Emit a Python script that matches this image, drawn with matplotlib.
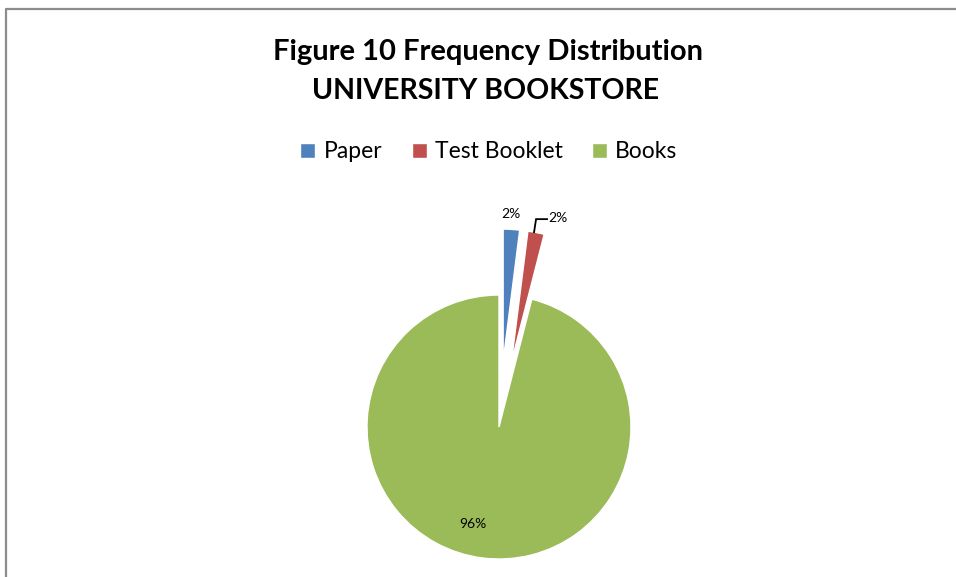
import matplotlib
matplotlib.use("Agg")
import matplotlib.pyplot as plt
import numpy as np
from matplotlib.lines import Line2D

# ---- data ----
categories = ["Paper", "Test Booklet", "Books"]
values = [2, 2, 96]
pct_labels = ["2%", "2%", "96%"]
colors = ["#4F81BD", "#C0504D", "#9BBB59"]
explode_frac = [0.5, 0.5, 0.0]
title_lines = ["Figure 10 Frequency Distribution", "UNIVERSITY BOOKSTORE"]

plt.rcParams['font.family'] = ['Lato', 'DejaVu Sans']

W, H = 956, 577
fig = plt.figure(figsize=(W / 100, H / 100), dpi=100)
ax = fig.add_axes([0, 0, 1, 1])

cx, cy, R = 499, H - 427, 132
wedges, _ = ax.pie(values, colors=colors, explode=[e * R for e in explode_frac],
                   startangle=90, counterclock=False, radius=R, center=(cx, cy),
                   wedgeprops=dict(edgecolor='white', linewidth=1.0), frame=True)
ax.set_xlim(0, W)
ax.set_ylim(0, H)
ax.set_aspect('equal')
ax.axis('off')

# data labels
label_r = [213, 217, 101]
label_nudge = [0.4, -3.0, -8.0]
for i, w in enumerate(wedges):
    mid = np.deg2rad((w.theta1 + w.theta2) / 2 + label_nudge[i])
    if i == 1:
        # leader line
        a = np.deg2rad((w.theta1 + w.theta2) / 2 + 0.9)
        sx, sy = w.center[0] + R * np.cos(a), w.center[1] + R * np.sin(a)
        ex, ey = sx + 2, sy + 13
        fx = ex + 11
        ax.plot([sx, ex, fx], [sy, ey, ey], color='black', lw=1.3,
                solid_joinstyle='miter')
        ax.text(fx + 1.5, ey + 1, pct_labels[i], ha='left', va='center', fontsize=10)
    else:
        x = cx + label_r[i] * np.cos(mid)
        y = cy + label_r[i] * np.sin(mid)
        ax.text(x, y, pct_labels[i], ha='center', va='center', fontsize=10)

# title
fig.text(488 / W, 1 - 52 / H, title_lines[0], ha='center', va='center',
         fontsize=21, fontweight='bold')
fig.text(486 / W, 1 - 91 / H, title_lines[1], ha='center', va='center',
         fontsize=20.5, fontweight='bold')

# legend
fig.legend(handles=wedges, labels=categories, loc='center',
           bbox_to_anchor=(489 / W, 1 - 152 / H), ncol=3, frameon=False,
           fontsize=16.5, handlelength=0.65, handleheight=0.65, handletextpad=0.35,
           columnspacing=1.3)

# chart-area border (left and top)
fig.add_artist(Line2D([5.5 / W, 5.5 / W, 1.0], [0.0, 1 - 9 / H, 1 - 9 / H],
                      transform=fig.transFigure, color='#8c8c8c', lw=1.6))

fig.savefig("out.png", dpi=100)
